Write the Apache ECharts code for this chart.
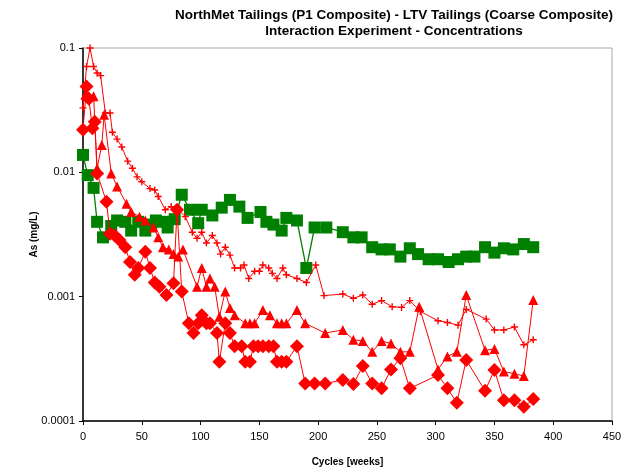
<!DOCTYPE html>
<html><head><meta charset="utf-8">
<script src="https://cdn.jsdelivr.net/npm/echarts@6/dist/echarts.min.js"></script>
<style>html,body{margin:0;padding:0;background:#fff}#c{width:626px;height:472px}</style>
</head><body><div id="c"></div>
<script>
const titleLines = ['NorthMet Tailings (P1 Composite) - LTV Tailings (Coarse Composite)', 'Interaction Experiment - Concentrations'];
const xTicks = [0, 50, 100, 150, 200, 250, 300, 350, 400, 450];
const yTickLabels = ['0.0001', '0.001', '0.01', '0.1'];

const greenX = [0,4,9,12,17,24,29,36,41,47,53,58,62,68,72,78,84,91,98,101,110,118,125,133,140,151,156,162,169,173,182,190,197,207,221,230,237,246,254,261,270,278,285,294,302,311,319,326,333,342,350,358,366,375,383];
const greenY = [0.0138,0.0095,0.0075,0.0040,0.0030,0.0037,0.0041,0.0040,0.0034,0.0040,0.0034,0.0038,0.0041,0.0040,0.0036,0.0042,0.0066,0.0050,0.0039,0.0050,0.0045,0.0052,0.0060,0.0053,0.0043,0.0048,0.0040,0.0038,0.0034,0.0043,0.0041,0.0017,0.0036,0.0036,0.0033,0.0030,0.0030,0.0025,0.0024,0.0024,0.0021,0.00245,0.0022,0.0020,0.0020,0.0019,0.0020,0.0021,0.0021,0.0025,0.00226,0.00245,0.0024,0.00265,0.0025];

const crossX = [0,3,6,9,12,15,19,23,25,29,33,38,42,46,50,57,61,64,70,75,81,87,93,97,101,105,110,114,117,121,125,129,134,137,141,146,150,153,158,161,165,170,173,182,190,198,205,221,230,238,246,254,263,271,278,287,302,310,319,326,343,350,358,367,375,383];
const crossY = [0.033,0.071,0.1,0.071,0.063,0.060,0.030,0.030,0.021,0.0185,0.016,0.0123,0.0108,0.0092,0.0084,0.0074,0.0072,0.0064,0.0050,0.0053,0.0050,0.0044,0.0033,0.00295,0.0033,0.0027,0.0031,0.0027,0.0022,0.0025,0.00216,0.0017,0.0017,0.0018,0.0014,0.0016,0.0016,0.0018,0.0017,0.00154,0.0014,0.0017,0.0015,0.0014,0.0013,0.0018,0.00102,0.00105,0.00097,0.00103,0.00087,0.00093,0.00083,0.00082,0.00093,0.00076,0.00064,0.00062,0.00059,0.00079,0.00066,0.00054,0.00054,0.00057,0.00041,0.00045];

const triX = [2,5,9,12,16,18,24,29,37,41,48,53,60,64,68,73,77,81,85,97,101,105,108,112,116,121,125,129,138,142,146,153,159,165,169,173,182,189,206,221,230,238,246,254,262,270,278,286,302,310,318,326,342,350,358,367,375,383];
const triY = [0.042,0.041,0.041,0.0108,0.0166,0.029,0.0098,0.0077,0.0056,0.0048,0.0044,0.0041,0.0036,0.0030,0.0025,0.0024,0.0022,0.0021,0.0024,0.0012,0.0017,0.0012,0.0014,0.0012,0.00069,0.0011,0.00081,0.00071,0.00061,0.00061,0.00061,0.00078,0.00071,0.00061,0.00061,0.00061,0.00078,0.00061,0.00051,0.00054,0.00045,0.00044,0.00036,0.00044,0.00042,0.00036,0.00036,0.00083,0.00026,0.00033,0.00036,0.00103,0.00037,0.00038,0.00025,0.00024,0.00023,0.00094];

const diaX = [0,3,5,8,10,12,20,23,27,31,36,40,44,47,53,57,61,65,71,77,80,84,90,94,98,101,105,108,114,116,121,125,129,135,138,142,145,149,153,158,162,165,169,173,182,189,197,206,221,230,238,246,254,262,270,278,302,310,318,326,342,350,358,367,375,383];
const diaY = [0.022,0.049,0.039,0.0226,0.0255,0.0098,0.0058,0.0032,0.0031,0.00285,0.0025,0.0019,0.0015,0.0017,0.0023,0.0017,0.0013,0.0012,0.00103,0.00128,0.0050,0.0011,0.00061,0.00051,0.00061,0.00071,0.00061,0.00061,0.00051,0.0003,0.00061,0.00051,0.0004,0.0004,0.0003,0.0003,0.0004,0.0004,0.0004,0.0004,0.0004,0.0003,0.0003,0.0003,0.0004,0.0002,0.0002,0.0002,0.000214,0.000198,0.000277,0.0002,0.000183,0.00026,0.00032,0.000183,0.000234,0.000183,0.00014,0.00031,0.000175,0.000257,0.000147,0.000147,0.00013,0.00015];

function pairs(xs, ys) { return xs.map((x, i) => [x, ys[i]]); }
const FONT = 'Liberation Sans, Arial, sans-serif';
const crossPath = 'path://M4,0L6,0L6,4L10,4L10,6L6,6L6,10L4,10L4,6L0,6L0,4L4,4Z';

const chart = echarts.init(document.getElementById('c'), null, {renderer: 'canvas'});
chart.setOption({
  animation: false,
  backgroundColor: '#fff',
  title: {
    text: titleLines.join('\n'),
    left: 389, top: 2, textAlign: 'center',
    textStyle: {fontFamily: FONT, fontSize: 13.5, fontWeight: 'bold', color: '#000', lineHeight: 16}
  },
  grid: {left: 83, right: 14, top: 48, bottom: 51, show: true, borderColor: '#a8a8a8', borderWidth: 1},
  xAxis: {
    type: 'value', min: 0, max: 450, interval: 50,
    name: 'Cycles [weeks]', nameLocation: 'middle', nameGap: 36,
    nameTextStyle: {fontFamily: FONT, fontSize: 10, fontWeight: 'bold', color: '#000'},
    axisLine: {show: true, onZero: false, lineStyle: {color: '#000', width: 1.5}},
    axisTick: {show: true, length: 4, lineStyle: {color: '#000'}},
    axisLabel: {fontFamily: FONT, fontSize: 11, color: '#000', margin: 10,
      formatter: v => xTicks.includes(v) ? String(v) : ''},
    splitLine: {show: false}
  },
  yAxis: {
    type: 'log', logBase: 10, min: 0.0001, max: 0.1,
    name: 'As (mg/L)', nameLocation: 'middle', nameGap: 44, nameRotate: 90, nameMoveOverlap: false,
    nameTextStyle: {fontFamily: FONT, fontSize: 10, fontWeight: 'bold', color: '#000'},
    axisLine: {show: true, lineStyle: {color: '#000', width: 1.5}},
    axisTick: {show: true, length: 4, lineStyle: {color: '#000'}},
    minorTick: {show: false},
    axisLabel: {fontFamily: FONT, fontSize: 11, color: '#000', margin: 8,
      formatter: v => { const k = Math.round(Math.log10(v)) + 4; return yTickLabels[k] || ''; }},
    splitLine: {show: false}
  },
  series: [
    {type: 'line', name: 'green', data: pairs(greenX, greenY), symbol: 'rect', symbolSize: 12,
      itemStyle: {color: '#008000'}, lineStyle: {color: '#008000', width: 1.3}, z: 2},
    {type: 'line', name: 'cross', data: pairs(crossX, crossY), symbol: crossPath, symbolSize: 7,
      itemStyle: {color: '#ff0000'}, lineStyle: {color: '#ff0000', width: 1}, z: 3},
    {type: 'line', name: 'tri', data: pairs(triX, triY), symbol: 'triangle', symbolSize: 10,
      itemStyle: {color: '#ff0000'}, lineStyle: {color: '#ff0000', width: 1}, z: 4},
    {type: 'line', name: 'dia', data: pairs(diaX, diaY), symbol: 'diamond', symbolSize: 14,
      itemStyle: {color: '#ff0000'}, lineStyle: {color: '#ff0000', width: 1}, z: 5}
  ]
});
</script></body></html>
